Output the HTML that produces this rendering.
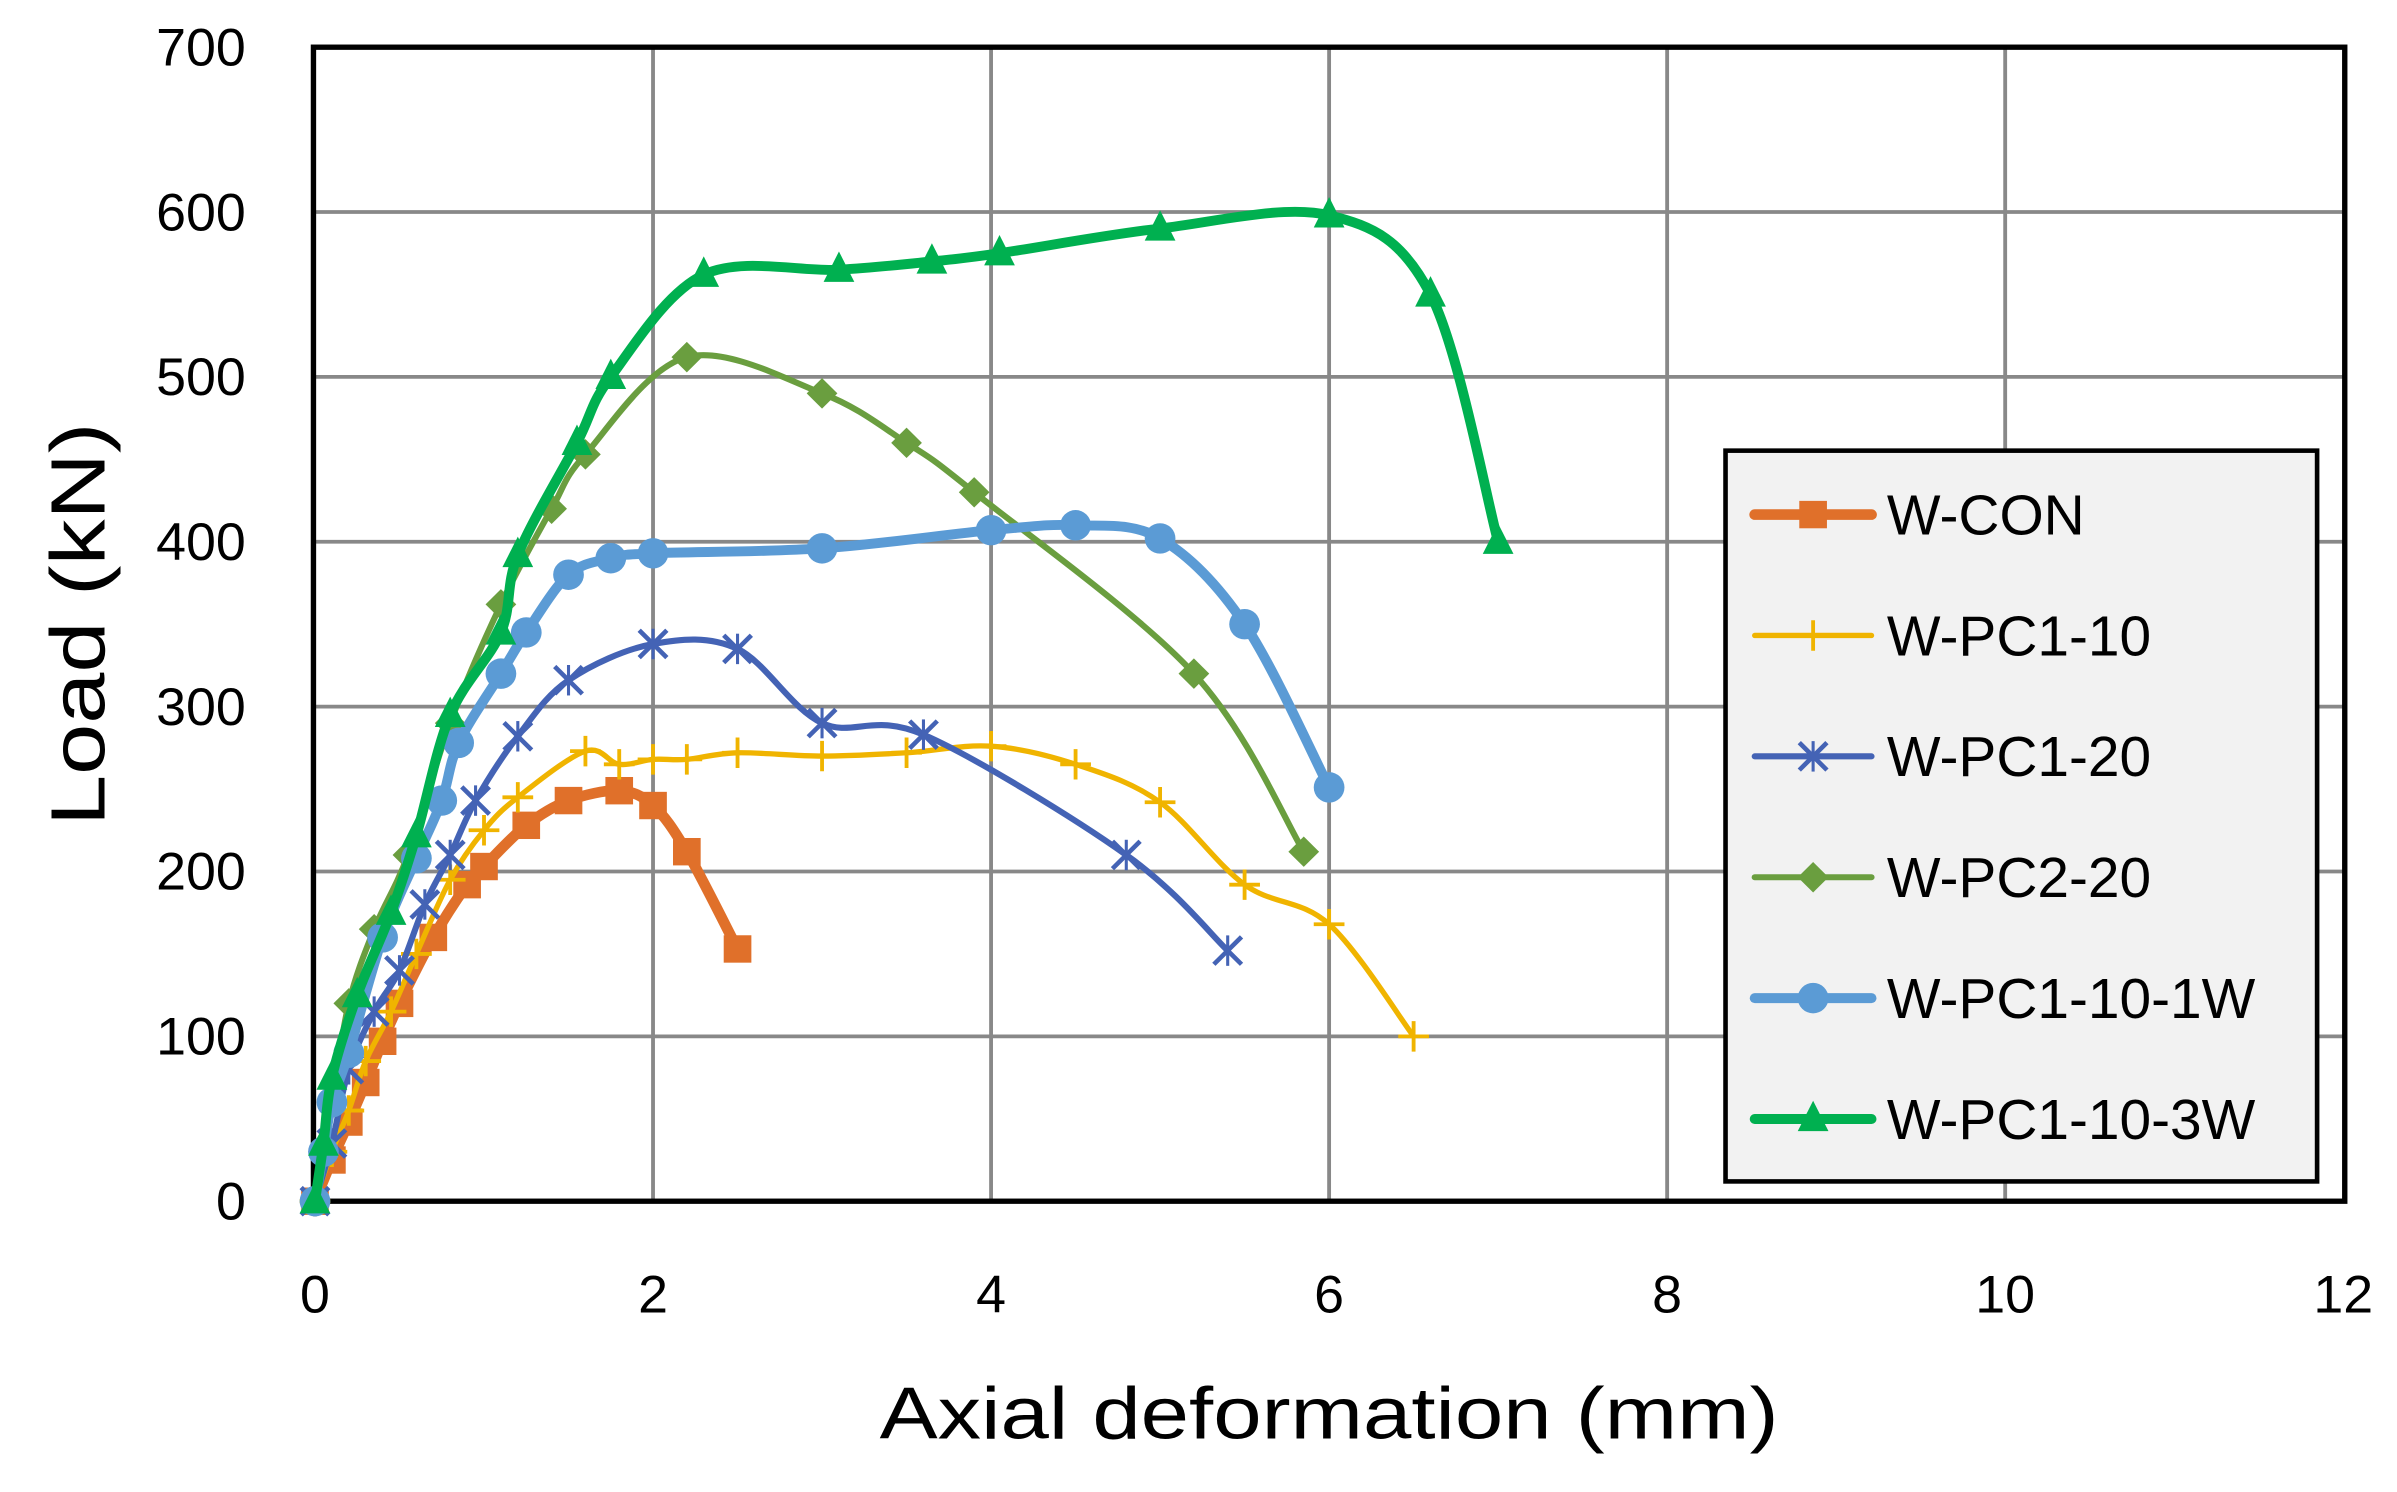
<!DOCTYPE html>
<html><head><meta charset="utf-8"><style>
html,body{margin:0;padding:0;background:#fff;}
svg{display:block;}
text{font-family:"Liberation Sans",sans-serif;fill:#000;}
</style></head><body>
<svg id="s" width="2397" height="1492" viewBox="0 0 1560 980" preserveAspectRatio="none" xmlns="http://www.w3.org/2000/svg">
<g id="grid" stroke="#888" stroke-width="2.5"></g>
<rect x="204" y="31" width="1322" height="758" fill="none" stroke="#000" stroke-width="3.5"/>
<g id="ticks" font-size="35"></g>
<text x="865" y="945" font-size="48" text-anchor="middle" textLength="585" lengthAdjust="spacingAndGlyphs">Axial deformation (mm)</text>
<text transform="translate(68,410) rotate(-90)" font-size="50" text-anchor="middle" textLength="265" lengthAdjust="spacingAndGlyphs">Load (kN)</text>
<g id="series"></g>
<rect x="1123" y="296" width="385" height="480" fill="#f2f2f2" stroke="#000" stroke-width="3"/>
<g id="legend" font-size="37"></g>
</svg>
<script>
const NS="http://www.w3.org/2000/svg";
const X=v=>205+110*v, Y=v=>789-1.0829*v;
function el(t,a,p){const e=document.createElementNS(NS,t);for(const k in a)e.setAttribute(k,a[k]);p.appendChild(e);return e;}
const grid=document.getElementById('grid'),ticks=document.getElementById('ticks');
for(let i=1;i<7;i++)el('line',{x1:204,x2:1526,y1:Y(i*100),y2:Y(i*100)},grid);
for(let i=1;i<6;i++)el('line',{x1:X(i*2),x2:X(i*2),y1:31,y2:789},grid);
for(let i=0;i<=7;i++){const t=el('text',{x:160,y:Y(i*100)+12,'text-anchor':'end'},ticks);t.textContent=i*100;}
for(let i=0;i<=6;i++){const t=el('text',{x:X(i*2),y:862,'text-anchor':'middle'},ticks);t.textContent=i*2;}
const S=[
{n:'W-CON',c:'#e0702a',w:7,m:'sq',d:[[0,0],[0.1,25],[0.2,48],[0.3,72],[0.4,97],[0.5,120],[0.7,160],[0.9,192],[1,203],[1.25,228],[1.5,243],[1.8,249],[2,240],[2.2,212],[2.5,153]]},
{n:'W-PC1-10',c:'#f0b400',w:3.5,m:'plus',d:[[0,0],[0.1,30],[0.2,55],[0.3,85],[0.45,115],[0.6,150],[0.8,195],[1,225],[1.2,245],[1.6,273],[1.8,265],[2,268],[2.2,268],[2.5,272],[3,270],[3.5,272],[4,276],[4.5,265],[5,242],[5.5,192],[6,168],[6.5,100]]},
{n:'W-PC1-20',c:'#4463b5',w:4,m:'x',d:[[0,0],[0.1,35],[0.2,80],[0.35,115],[0.5,140],[0.65,180],[0.8,210],[0.95,243],[1.2,282],[1.5,316],[2,338],[2.5,335],[3,290],[3.6,283],[4.8,210],[5.4,152]]},
{n:'W-PC2-20',c:'#6a9e3f',w:4,m:'dia',d:[[0,0],[0.05,30],[0.1,60],[0.2,120],[0.35,165],[0.55,210],[0.8,290],[1.1,362],[1.4,420],[1.6,453],[2.2,512],[3,490],[3.5,460],[3.9,430],[5.2,320],[5.85,212]]},
{n:'W-PC1-10-1W',c:'#5b9bd5',w:6.5,m:'circ',d:[[0,0],[0.05,30],[0.1,60],[0.2,90],[0.4,160],[0.6,208],[0.75,243],[0.85,278],[1.1,320],[1.25,345],[1.5,380],[1.75,390],[2,393],[3,396],[4,407],[4.5,410],[5,402],[5.5,350],[6,251]]},
{n:'W-PC1-10-3W',c:'#00b050',w:6.5,m:'tri',d:[[0,0],[0.05,35],[0.1,75],[0.25,125],[0.45,175],[0.6,222],[0.8,295],[1.1,345],[1.2,392],[1.55,460],[1.75,500],[2.3,562],[3.1,565],[3.65,570],[4.05,575],[5,590],[6,598],[6.6,550],[7,400]]}
];
function path(p){let d='M'+p[0][0]+','+p[0][1];for(let i=0;i<p.length-1;i++){const a=p[i-1]||p[i],b=p[i],c=p[i+1],e=p[i+2]||c;const t=6;d+=' C'+(b[0]+(c[0]-a[0])/t)+','+(b[1]+(c[1]-a[1])/t)+' '+(c[0]-(e[0]-b[0])/t)+','+(c[1]-(e[1]-b[1])/t)+' '+c[0]+','+c[1];}return d;}
function mk(m,x,y,c,g){
 if(m=='sq')el('rect',{x:x-9,y:y-9,width:18,height:18,fill:c},g);
 else if(m=='circ')el('circle',{cx:x,cy:y,r:10,fill:c},g);
 else if(m=='dia')el('polygon',{points:`${x},${y-10} ${x+10},${y} ${x},${y+10} ${x-10},${y}`,fill:c},g);
 else if(m=='tri')el('polygon',{points:`${x},${y-12} ${x+10},${y+8} ${x-10},${y+8}`,fill:c},g);
 else if(m=='plus'){el('path',{d:`M${x-10},${y}H${x+10}M${x},${y-10}V${y+10}`,stroke:c,'stroke-width':2.5},g);}
 else if(m=='x'){el('path',{d:`M${x-9},${y-9}L${x+9},${y+9}M${x-9},${y+9}L${x+9},${y-9}`,stroke:c,'stroke-width':3},g);el('path',{d:`M${x},${y-10}V${y+10}`,stroke:c,'stroke-width':2},g);}
}
const sg=document.getElementById('series'),lg=document.getElementById('legend');
S.forEach((s,i)=>{const p=s.d.map(q=>[X(q[0]),Y(q[1])]);
 el('path',{d:path(p),fill:'none',stroke:s.c,'stroke-width':s.w,'stroke-linejoin':'round','stroke-linecap':'round'},sg);
 p.forEach(q=>mk(s.m,q[0],q[1],s.c,sg));
 const ly=338+i*79.4;
 el('line',{x1:1142,x2:1218,y1:ly,y2:ly,stroke:s.c,'stroke-width':s.w,'stroke-linecap':'round'},lg);
 mk(s.m,1180,ly,s.c,lg);
 const t=el('text',{x:1228,y:ly+13},lg);t.textContent=s.n;
});
</script>
</body></html>
